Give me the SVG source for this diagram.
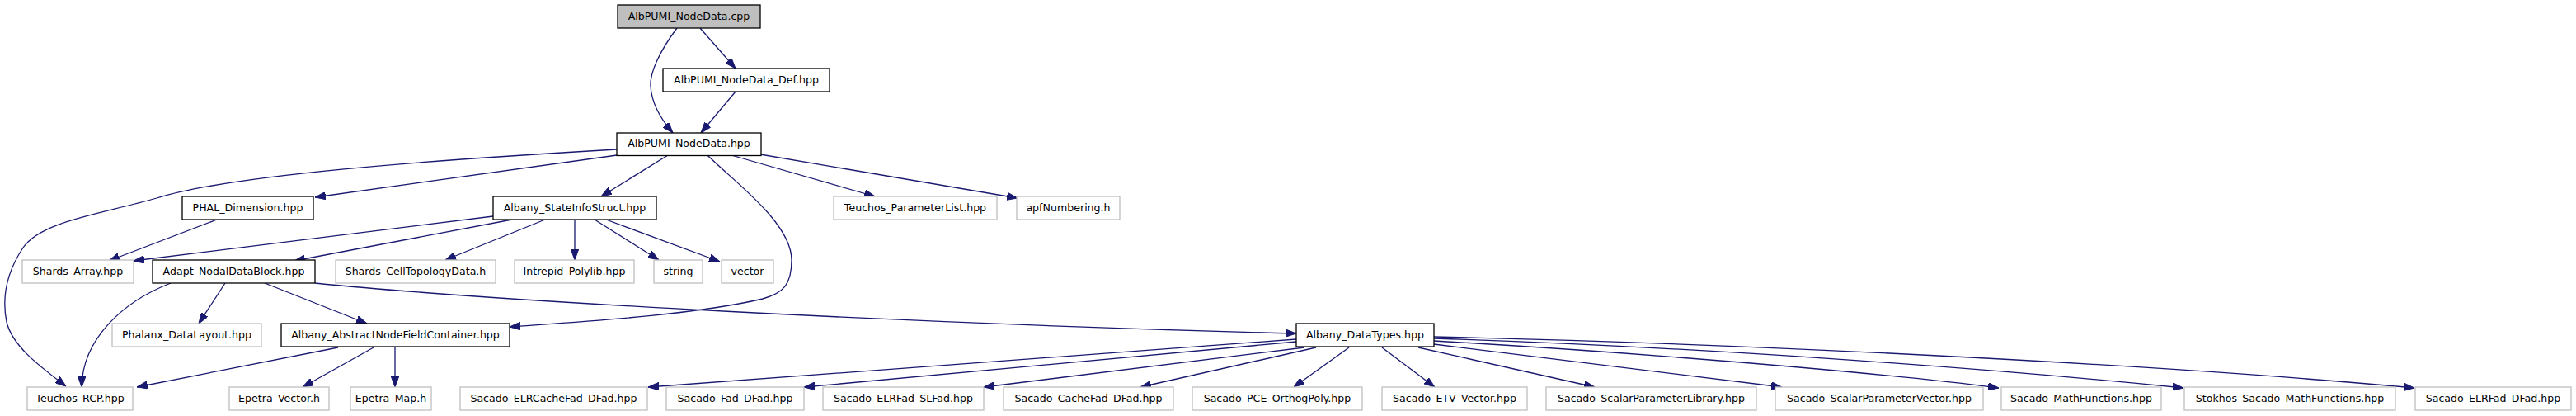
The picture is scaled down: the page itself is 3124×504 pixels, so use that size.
<svg xmlns="http://www.w3.org/2000/svg" width="3124" height="504" viewBox="0 0 3124 504">
<style>
rect{stroke-width:1.3}
.d rect{fill:#fff;stroke:#000}
.u rect{fill:#fff;stroke:#bfbfbf}
.m rect{fill:#bfbfbf;stroke:#000}
text{font-family:"DejaVu Sans",sans-serif;font-size:12.6px;fill:#000;text-anchor:middle}
#edges path{fill:none;stroke:#191970;stroke-width:1.3;marker-end:url(#arr)}
</style>
<defs>
<marker id="arr" viewBox="0 0 13 9.4" markerWidth="13" markerHeight="9.4" refX="13" refY="4.7" orient="auto" markerUnits="userSpaceOnUse">
<path d="M0,0 L13,4.7 L0,9.4 z" fill="#191970" stroke="#191970" stroke-width="1"/>
</marker>
</defs>
<rect width="3124" height="504" fill="#fff"/>
<g id="edges">
<path d="M821,34 C800,62 788,88 789,104 C790,125 802,145 816,161"/>
<path d="M849,34 L892,83"/>
<path d="M892,111 L850,161"/>
<path d="M748,181 C520,194 280,212 190,240 C120,260 50,268 28,300 C8,330 2,360 8,390 C15,420 50,445 80,468"/>
<path d="M748,188 L382,239"/>
<path d="M810,188 L729,238"/>
<path d="M858,188 C890,220 960,270 960,315 C960,345 950,355 925,362 C840,382 700,390 618,396"/>
<path d="M887,188 L1061,238"/>
<path d="M922,187 L1234,240"/>
<path d="M263,266 L132,316"/>
<path d="M598,262 L162,316"/>
<path d="M621,266 L357,316"/>
<path d="M661,266 L540,315"/>
<path d="M697,266 L697,315"/>
<path d="M721,266 L799,315"/>
<path d="M735,266 L873,317"/>
<path d="M207,343 C150,365 100,410 99,469"/>
<path d="M273,343 L241,392"/>
<path d="M321,343 L445,392"/>
<path d="M382,343 C600,365 1100,392 1572,404"/>
<path d="M410,421 L166,469"/>
<path d="M453,421 L367,469"/>
<path d="M479,421 L479,469"/>
<path d="M1572,411 L786,469"/>
<path d="M1572,414 L975,469"/>
<path d="M1582,421 L1193,469"/>
<path d="M1596,421 L1383,469"/>
<path d="M1636,421 L1569,469"/>
<path d="M1676,421 L1740,469"/>
<path d="M1720,421 L1934,469"/>
<path d="M1739,417 L2161,469"/>
<path d="M1739,413 C1950,425 2250,448 2424,470"/>
<path d="M1739,410 C2050,420 2400,445 2648,470"/>
<path d="M1739,408 C2100,416 2600,440 2928,470"/>
</g>
<g id="n_cpp" class="m"><rect x="749" y="6" width="173" height="28"/><text x="835.5" y="23.5">AlbPUMI_NodeData.cpp</text></g>
<g id="n_def" class="d"><rect x="804" y="83" width="202" height="28"/><text x="905" y="100.5">AlbPUMI_NodeData_Def.hpp</text></g>
<g id="n_hpp" class="d"><rect x="748" y="161" width="175" height="27.5"/><text x="835.5" y="178">AlbPUMI_NodeData.hpp</text></g>
<g id="n_phal" class="d"><rect x="221" y="238" width="159" height="28"/><text x="300.5" y="255.5">PHAL_Dimension.hpp</text></g>
<g id="n_state" class="d"><rect x="598" y="238" width="198" height="28"/><text x="697" y="255.5">Albany_StateInfoStruct.hpp</text></g>
<g id="n_tpl" class="u"><rect x="1011" y="238" width="198" height="28"/><text x="1110" y="255.5">Teuchos_ParameterList.hpp</text></g>
<g id="n_apf" class="u"><rect x="1233" y="238" width="125" height="28"/><text x="1295.5" y="255.5">apfNumbering.h</text></g>
<g id="n_shards" class="u"><rect x="27" y="315" width="135" height="28"/><text x="94.5" y="332.5">Shards_Array.hpp</text></g>
<g id="n_adapt" class="d"><rect x="185" y="315" width="197" height="28"/><text x="283.5" y="332.5">Adapt_NodalDataBlock.hpp</text></g>
<g id="n_celltopo" class="u"><rect x="407" y="315" width="194" height="28"/><text x="504" y="332.5">Shards_CellTopologyData.h</text></g>
<g id="n_polylib" class="u"><rect x="624" y="315" width="145" height="28"/><text x="696.5" y="332.5">Intrepid_Polylib.hpp</text></g>
<g id="n_string" class="u"><rect x="793" y="315" width="59" height="28"/><text x="822.5" y="332.5">string</text></g>
<g id="n_vector" class="u"><rect x="875" y="315" width="63" height="28"/><text x="906.5" y="332.5">vector</text></g>
<g id="n_phalanx" class="u"><rect x="136" y="392" width="181" height="28"/><text x="226.5" y="409.5">Phalanx_DataLayout.hpp</text></g>
<g id="n_abstract" class="d"><rect x="341" y="392" width="277" height="28"/><text x="479.5" y="409.5">Albany_AbstractNodeFieldContainer.hpp</text></g>
<g id="n_datatypes" class="d"><rect x="1572" y="392" width="167" height="28"/><text x="1655.5" y="409.5">Albany_DataTypes.hpp</text></g>
<g id="n_rcp" class="u"><rect x="33" y="469" width="128" height="28"/><text x="97" y="486.5">Teuchos_RCP.hpp</text></g>
<g id="n_evec" class="u"><rect x="278" y="469" width="121" height="28"/><text x="338.5" y="486.5">Epetra_Vector.h</text></g>
<g id="n_emap" class="u"><rect x="425" y="469" width="98" height="28"/><text x="474" y="486.5">Epetra_Map.h</text></g>
<g id="n_elrcache" class="u"><rect x="558" y="469" width="227" height="28"/><text x="671.5" y="486.5">Sacado_ELRCacheFad_DFad.hpp</text></g>
<g id="n_faddfad" class="u"><rect x="808" y="469" width="167" height="28"/><text x="891.5" y="486.5">Sacado_Fad_DFad.hpp</text></g>
<g id="n_elrslfad" class="u"><rect x="998" y="469" width="195" height="28"/><text x="1095.5" y="486.5">Sacado_ELRFad_SLFad.hpp</text></g>
<g id="n_cachefad" class="u"><rect x="1217" y="469" width="206" height="28"/><text x="1320" y="486.5">Sacado_CacheFad_DFad.hpp</text></g>
<g id="n_pce" class="u"><rect x="1446" y="469" width="206" height="28"/><text x="1549" y="486.5">Sacado_PCE_OrthogPoly.hpp</text></g>
<g id="n_etv" class="u"><rect x="1676" y="469" width="176" height="28"/><text x="1764" y="486.5">Sacado_ETV_Vector.hpp</text></g>
<g id="n_spl" class="u"><rect x="1875" y="469" width="255" height="28"/><text x="2002.5" y="486.5">Sacado_ScalarParameterLibrary.hpp</text></g>
<g id="n_spv" class="u"><rect x="2153" y="469" width="252" height="28"/><text x="2279" y="486.5">Sacado_ScalarParameterVector.hpp</text></g>
<g id="n_math" class="u"><rect x="2427" y="469" width="194" height="28"/><text x="2524" y="486.5">Sacado_MathFunctions.hpp</text></g>
<g id="n_stokhos" class="u"><rect x="2649" y="469" width="256" height="28"/><text x="2777" y="486.5">Stokhos_Sacado_MathFunctions.hpp</text></g>
<g id="n_elrdfad" class="u"><rect x="2929" y="469" width="189" height="28"/><text x="3023.5" y="486.5">Sacado_ELRFad_DFad.hpp</text></g>
</svg>
